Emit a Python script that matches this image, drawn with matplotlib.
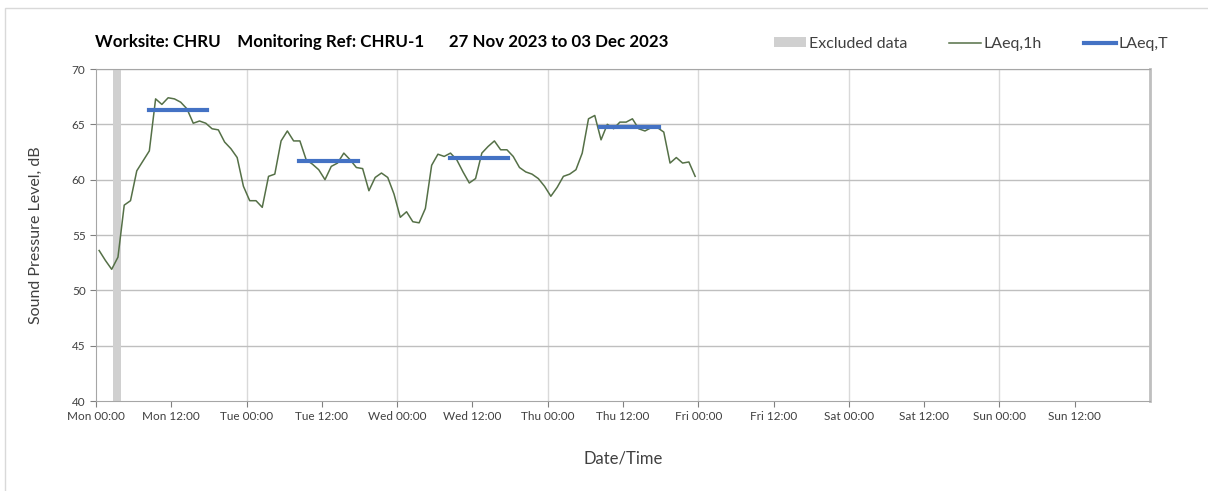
import matplotlib
matplotlib.use('Agg')
import matplotlib.pyplot as plt
from matplotlib.patches import Rectangle, Patch
from matplotlib.lines import Line2D

plt.rcParams['font.family'] = ['Lato', 'DejaVu Sans']

# hourly LAeq,1h values, one per hour from Mon 00:00
laeq_1h = [53.6, 52.7, 51.9, 53.0, 57.7, 58.1, 60.8, 61.7, 62.6, 67.3, 66.8, 67.4,
           67.3, 67.0, 66.4, 65.1, 65.3, 65.1, 64.6, 64.5, 63.4, 62.8, 62.0, 59.4,
           58.1, 58.1, 57.5, 60.3, 60.5, 63.5, 64.4, 63.5, 63.5, 61.8, 61.4, 60.9,
           60.0, 61.2, 61.5, 62.4, 61.8, 61.1, 61.0, 59.0, 60.2, 60.6, 60.2, 58.7,
           56.6, 57.1, 56.2, 56.1, 57.4, 61.3, 62.3, 62.1, 62.4, 61.8, 60.7, 59.7,
           60.1, 62.4, 63.0, 63.5, 62.7, 62.7, 62.1, 61.1, 60.7, 60.5, 60.1, 59.4,
           58.5, 59.3, 60.3, 60.5, 60.9, 62.4, 65.5, 65.8, 63.6, 65.0, 64.6, 65.2,
           65.2, 65.5, 64.6, 64.4, 64.7, 64.7, 64.3, 61.5, 62.0, 61.5, 61.6, 60.3]
hours = [h + 0.5 for h in range(len(laeq_1h))]

# LAeq,T per day (day index, value)
laeq_t_days = [0, 1, 2, 3]
laeq_t_vals = [66.3, 61.7, 62.0, 64.8]
t_start, t_end = 8.4, 17.7

excluded = (2.75, 4.0)

day_names = ['Mon', 'Tue', 'Wed', 'Thu', 'Fri', 'Sat', 'Sun']
tick_labels = [f'{d} {t}' for d in day_names for t in ['00:00', '12:00']]

fig = plt.figure(figsize=(12.08, 4.91), dpi=100)
fig.patches.append(Rectangle((5 / 1208, -0.1), 1.2, 1 - 8 / 491 + 0.1, transform=fig.transFigure,
                             fill=False, edgecolor='#d9d9d9', lw=1))
ax = fig.add_axes([96 / 1208, 1 - 401 / 491, (1150 - 96) / 1208, (401 - 69) / 491])

ax.axvspan(excluded[0], excluded[1], color='#d0d0d0', lw=0, zorder=1)
ax.plot(hours, laeq_1h, color='#557047', lw=1.1, zorder=3)
for d, v in zip(laeq_t_days, laeq_t_vals):
    ax.plot([24 * d + t_start, 24 * d + t_end], [v, v], color='#4472c4', lw=3, zorder=4)

ax.set_xlim(0, 168)
ax.set_ylim(40, 70)
ax.set_yticks(range(40, 71, 5))
ax.set_xticks(range(0, 168, 12))
ax.set_xticklabels(tick_labels)
for d in range(1, 8):
    ax.axvline(24 * d, color='#d9d9d9', lw=1, zorder=0)
for y in range(45, 71, 5):
    ax.axhline(y, color='#bfbfbf', lw=1, zorder=0)

for s in ['left', 'bottom', 'top']:
    ax.spines[s].set_color('#a6a6a6')
ax.spines['right'].set_color('#bfbfbf')
ax.spines['right'].set_linewidth(2)
ax.tick_params(axis='both', direction='out', length=4, color='#808080',
               labelsize=8.5, labelcolor='#404040')

ax.set_ylabel('Sound Pressure Level, dB', fontsize=11.5, color='#404040', labelpad=21)
ax.set_xlabel('Date/Time', fontsize=12, color='#404040', labelpad=20)

fig.text(95 / 1208, 1 - 42 / 491, 'Worksite: CHRU    Monitoring Ref: CHRU-1      27 Nov 2023 to 03 Dec 2023',
         fontsize=12.2, fontweight='bold', va='center', ha='left', color='black')

handles = [Patch(facecolor='#d0d0d0', edgecolor='none'),
           Line2D([], [], color='#557047', lw=1.1),
           Line2D([], [], color='#4472c4', lw=3)]
fig.legend(handles, ['Excluded data', 'LAeq,1h', 'LAeq,T'], loc='center',
           bbox_to_anchor=(971 / 1208, 1 - 44 / 491), ncol=3, frameon=False,
           fontsize=11.5, handlelength=2.0, handleheight=0.6, handletextpad=0.2,
           columnspacing=2.6, labelcolor='#404040')

fig.savefig('out.png', dpi=100)
